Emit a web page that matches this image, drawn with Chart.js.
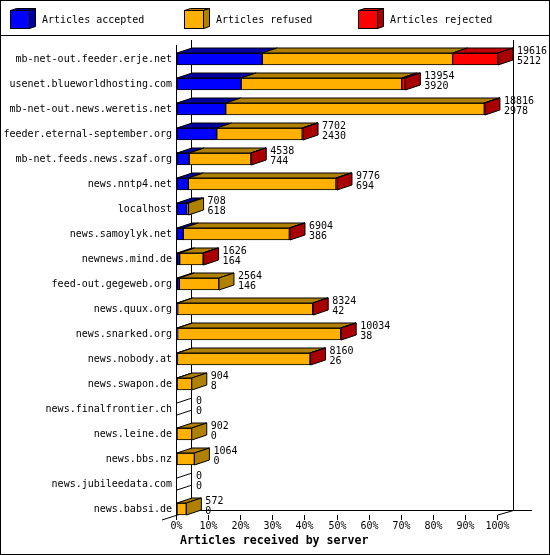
<!DOCTYPE html>
<html>
<head>
<meta charset="utf-8">
<title>Articles received by server</title>
<script src="https://cdn.jsdelivr.net/npm/chart.js@4.4.1/dist/chart.umd.min.js"></script>
<style>
  html, body { margin: 0; padding: 0; background: #fff; }
  #wrap { width: 550px; height: 555px; position: relative; }
</style>
</head>
<body>
<div id="wrap"><canvas id="chart"></canvas></div>
<script>
// data (article counts per server)
const servers = [
    'mb-net-out.feeder.erje.net', 'usenet.blueworldhosting.com', 'mb-net-out.news.weretis.net',
    'feeder.eternal-september.org', 'mb-net.feeds.news.szaf.org', 'news.nntp4.net', 'localhost',
    'news.samoylyk.net', 'newnews.mind.de', 'feed-out.gegeweb.org', 'news.quux.org',
    'news.snarked.org', 'news.nobody.at', 'news.swapon.de', 'news.finalfrontier.ch',
    'news.leine.de', 'news.bbs.nz', 'news.jubileedata.com', 'news.babsi.de'
];
const accepted = [5212, 3920, 2978, 2430, 744, 694, 618, 386, 164, 146, 42, 38, 26, 8, 0, 0, 0, 0, 0];
const refused  = [11630, 9810, 15798, 5222, 3774, 9022, 90, 6478, 1432, 2418, 8252, 9966, 8104, 896, 0, 902, 1064, 0, 572];
const rejected = [2774, 224, 40, 50, 20, 60, 0, 40, 30, 0, 30, 30, 30, 0, 0, 0, 0, 0, 0];
const tickPercents = [0, 10, 20, 30, 40, 50, 60, 70, 80, 90, 100];

const seriesNames = ['Articles accepted', 'Articles refused', 'Articles rejected'];
const frontColors = ['#0000ff', '#ffb000', '#ff0000'];
const topColors   = ['#0000a0', '#b08000', '#c00000'];
const sideColors  = ['#0000a0', '#b08000', '#a80000'];

const totals = servers.map((s, i) => accepted[i] + refused[i] + rejected[i]);
const maxTotal = Math.max(...totals);
const asPercent = arr => arr.map(v => v / maxTotal * 100);

const MONO = '"DejaVu Sans Mono", monospace';
const DX = 15, DY = 5; // depth of the 3d bars

function poly(ctx, pts, fill) {
    ctx.beginPath();
    ctx.moveTo(pts[0][0], pts[0][1]);
    for (let k = 1; k < pts.length; k++) ctx.lineTo(pts[k][0], pts[k][1]);
    ctx.closePath();
    if (fill) { ctx.fillStyle = fill; ctx.fill(); }
    ctx.stroke();
}

function line(ctx, x1, y1, x2, y2) {
    ctx.beginPath();
    ctx.moveTo(x1, y1);
    ctx.lineTo(x2, y2);
    ctx.stroke();
}

const bars3d = {
    id: 'bars3d',
    beforeDraw(chart) {
        const ctx = chart.ctx;
        ctx.save();
        ctx.fillStyle = '#fff';
        ctx.fillRect(0, 0, chart.width, chart.height);
        ctx.restore();
    },
    beforeDatasetsDraw(chart) {
        const ctx = chart.ctx;
        const xs = chart.scales.x, ys = chart.scales.y;
        const x0 = xs.getPixelForValue(0), x1 = xs.getPixelForValue(100);
        const floorY = ys.getPixelForValue(servers.length - 1) + 6;
        ctx.save();
        ctx.strokeStyle = '#000';
        ctx.lineWidth = 1;
        // front axis and back walls
        line(ctx, x0 - 0.5, 45, x0 - 0.5, floorY);
        line(ctx, x0 + DX - 0.5, 40, x0 + DX - 0.5, floorY - DY + 0.5);
        line(ctx, x1 + DX + 0.5, 40, x1 + DX + 0.5, floorY - DY + 0.5);
        line(ctx, x0 + DX - 0.5, floorY - DY + 0.5, x1 + DX + 19, floorY - DY + 0.5);
        line(ctx, x0 - DX, floorY + DY, x0 + DX - 0.5, floorY - DY + 0.5);
        line(ctx, x1, floorY, x1 + DX + 0.5, floorY - DY + 0.5);
        // x ticks
        ctx.fillStyle = '#000';
        ctx.font = '10px ' + MONO;
        ctx.textAlign = 'center';
        ctx.textBaseline = 'middle';
        xs.ticks.forEach(t => {
            const x = Math.round(xs.getPixelForValue(t.value)) - 0.5;
            line(ctx, x, floorY, x, floorY + 5);
            ctx.fillText(t.value + '%', x, floorY + 11);
        });
        ctx.font = 'bold 11.6px ' + MONO;
        ctx.textAlign = 'left';
        ctx.fillText('Articles received by server', x0 + 3, floorY + 26);
        ctx.restore();
    },
    afterDatasetsDraw(chart) {
        const ctx = chart.ctx;
        const xs = chart.scales.x;
        const metas = chart.data.datasets.map((d, k) => chart.getDatasetMeta(k));
        ctx.save();
        ctx.strokeStyle = '#000';
        ctx.lineWidth = 1;
        servers.forEach((s, i) => {
            const el0 = metas[0].data[i];
            const top = el0.y - el0.height / 2;
            const bot = el0.y + el0.height / 2;
            let endX = xs.getPixelForValue(0);
            let last = -1;
            metas.forEach((m, k) => {
                const el = m.data[i];
                if (el.x - el.base <= 0.01) return;
                poly(ctx, [[el.base, top], [el.x, top], [el.x + DX, top - DY], [el.base + DX, top - DY]], topColors[k]);
                endX = el.x;
                last = k;
            });
            if (last >= 0) {
                poly(ctx, [[endX, top], [endX + DX, top - DY], [endX + DX, bot - DY], [endX, bot]], sideColors[last]);
            } else {
                line(ctx, endX, top, endX + DX, top - DY);
                line(ctx, endX, bot, endX + DX, bot - DY);
            }
            ctx.fillStyle = '#000';
            ctx.font = '10px ' + MONO;
            ctx.textAlign = 'left';
            ctx.textBaseline = 'middle';
            ctx.fillText(String(totals[i]), endX + DX + 4, el0.y - 8);
            ctx.fillText(String(accepted[i]), endX + DX + 4, el0.y + 2.5);
        });
        ctx.restore();
    },
    afterDraw(chart) {
        const ctx = chart.ctx;
        ctx.save();
        ctx.strokeStyle = '#000';
        ctx.lineWidth = 1;
        // legend with small cubes
        seriesNames.forEach((name, k) => {
            const x = 10 + k * 174, y = 10, w = 19, h = 18, dx = 6, dy = 2;
            poly(ctx, [[x + 0.5, y + 0.5], [x + w + 0.5, y + 0.5], [x + w + dx + 0.5, y - dy + 0.5], [x + dx + 0.5, y - dy + 0.5]], topColors[k]);
            poly(ctx, [[x + w + 0.5, y + 0.5], [x + w + dx + 0.5, y - dy + 0.5], [x + w + dx + 0.5, y + h - dy + 0.5], [x + w + 0.5, y + h + 0.5]], sideColors[k]);
            ctx.fillStyle = frontColors[k];
            ctx.fillRect(x + 0.5, y + 0.5, w, h);
            ctx.strokeRect(x + 0.5, y + 0.5, w, h);
            ctx.fillStyle = '#000';
            ctx.font = '10px ' + MONO;
            ctx.textAlign = 'left';
            ctx.textBaseline = 'middle';
            ctx.fillText(name, x + 32, y + 10);
        });
        line(ctx, 0, 35.5, chart.width, 35.5);
        ctx.strokeRect(0.5, 0.5, chart.width - 1, chart.height - 1);
        ctx.restore();
    }
};

const datasets = [accepted, refused, rejected].map((arr, k) => ({
    label: seriesNames[k],
    data: asPercent(arr),
    backgroundColor: frontColors[k],
    borderColor: '#000',
    borderWidth: 1,
    borderSkipped: false,
    barThickness: 12,
    clip: false,
}));

new Chart(document.getElementById('chart'), {
    type: 'bar',
    data: { labels: servers, datasets: datasets },
    options: {
        indexAxis: 'y',
        responsive: true,
        maintainAspectRatio: false,
        animation: false,
        layout: { padding: { top: 46.5, right: 52, bottom: 33.5, left: 0 } },
        plugins: {
            legend: { display: false },
            tooltip: { enabled: false },
        },
        scales: {
            x: {
                stacked: true,
                min: 0,
                max: 100,
                display: false,
                afterBuildTicks: scale => { scale.ticks = tickPercents.map(v => ({ value: v })); },
            },
            y: {
                stacked: true,
                grid: { display: false, drawTicks: false },
                border: { display: false },
                ticks: { color: '#000', font: { family: MONO, size: 10 }, padding: 5, autoSkip: false },
                afterFit: scale => { scale.width = 177; },
            },
        },
    },
    plugins: [bars3d],
});
</script>
</body>
</html>
